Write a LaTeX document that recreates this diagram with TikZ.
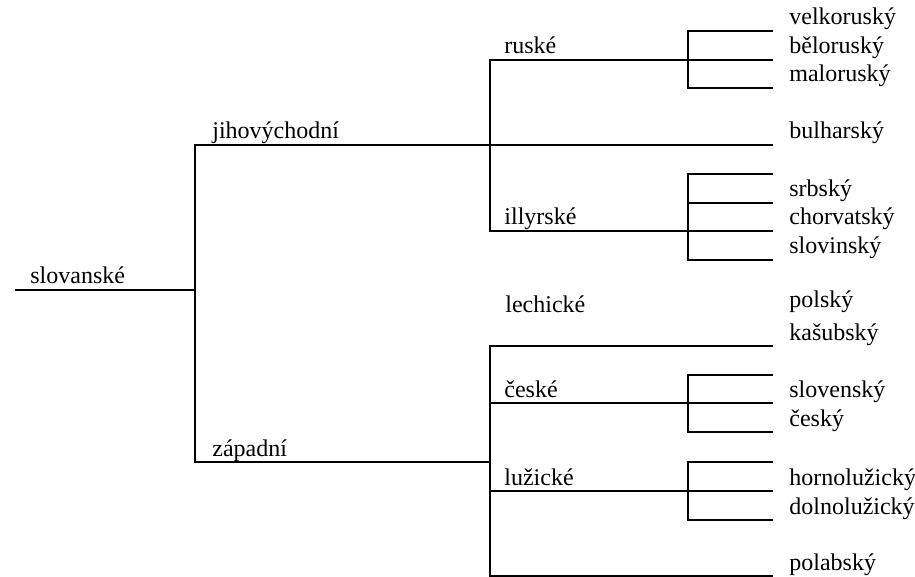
\documentclass[tikz,border=0pt]{standalone}
\usepackage{fontspec}

\begin{document}
\begin{tikzpicture}[x=0.5pt,y=-0.5pt,font=\fontspec{Liberation Serif}\fontsize{12}{14}\selectfont]
  %----- styles
  \tikzset{
    branch/.style={draw,line width=1pt},
    lbl/.style   ={anchor=base west,inner sep=0pt},
    leaf/.style  ={anchor=base west,inner sep=0pt,xshift=8pt,yshift=3pt}
  }
  \useasboundingbox (0,0) rectangle (915,577);

  %----- coordinates
  % root and first split
  \coordinate (root)  at (15,290);
  \coordinate (split) at (195,290);
  \coordinate (jv)    at (195,145);
  \coordinate (zp)    at (195,462);
  \coordinate (zpE)   at (490,462);

  % south-east group
  \coordinate (rus)   at (490,60);
  \coordinate (rusE)  at (773,60);
  \coordinate (bulE)  at (773,145);
  \coordinate (ill)   at (490,231);
  \coordinate (illE)  at (773,231);

  % west group
  \coordinate (kas)   at (490,346);
  \coordinate (kasE)  at (773,346);
  \coordinate (ces)   at (490,403);
  \coordinate (cesE)  at (773,403);
  \coordinate (luz)   at (490,491);
  \coordinate (luzE)  at (773,491);
  \coordinate (pol)   at (490,576);
  \coordinate (polE)  at (773,576);
  \coordinate (lech)  at (773,319); % no line here

  % small brackets
  \coordinate (rusT)  at (688,31);   \coordinate (velkE) at (773,31);
  \coordinate (rusB)  at (688,88);   \coordinate (malE)  at (773,88);
  \coordinate (illT)  at (688,174);  \coordinate (illTE) at (773,174);
  \coordinate (illM)  at (688,203);  \coordinate (srbE)  at (773,203);
  \coordinate (illB)  at (688,260);  \coordinate (sloE)  at (773,260);
  \coordinate (cesT)  at (688,375);  \coordinate (cesTE) at (773,375);
  \coordinate (cesB)  at (688,432);  \coordinate (ceskE) at (773,432);
  \coordinate (luzT)  at (688,462);  \coordinate (luzTE) at (773,462);
  \coordinate (luzB)  at (688,520);  \coordinate (dolE)  at (773,520);

  %----- branches
  \draw[branch] (root) -- (split);
  \draw[branch] (bulE) -- (jv) -- (zp) -- (zpE);

  \draw[branch] (rusE) -- (rus) -- (ill) -- (illE);
  \draw[branch] (velkE) -- (rusT) -- (rusB) -- (malE);
  \draw[branch] (illTE) -- (illT) -- (illB) -- (sloE);
  \draw[branch] (illM) -- (srbE);

  \draw[branch] (kasE) -- (kas) -- (pol) -- (polE);
  \draw[branch] (ces) -- (cesE);
  \draw[branch] (luz) -- (luzE);
  \draw[branch] (cesTE) -- (cesT) -- (cesB) -- (ceskE);
  \draw[branch] (luzTE) -- (luzT) -- (luzB) -- (dolE);

  %----- group labels
  \node[lbl] (tslov) at ([xshift=7.5pt,yshift=3pt]root) {slovanské};
  \node[lbl] (tjv)   at ([xshift=8.5pt,yshift=3pt]jv)   {jihovýchodní};
  \node[lbl] (tzp)   at ([xshift=8.5pt,yshift=3pt]zp)   {západní};
  \node[lbl] (trus)  at ([xshift=7pt,yshift=3pt]rus)    {ruské};
  \node[lbl] (till)  at ([xshift=7pt,yshift=3pt]ill)    {illyrské};
  \node[lbl] (tlech) at (505,313)                       {lechické};
  \node[lbl] (tces)  at ([xshift=7pt,yshift=3pt]ces)    {české};
  \node[lbl] (tluz)  at ([xshift=7pt,yshift=3pt]luz)    {lužické};

  %----- languages
  \node[leaf] (velk) at (velkE) {velkoruský};
  \node[leaf] (bel)  at (rusE)  {běloruský};
  \node[leaf] (mal)  at (malE)  {maloruský};
  \node[leaf] (bul)  at (bulE)  {bulharský};
  \node[leaf] (srb)  at (srbE)  {srbský};
  \node[leaf] (chor) at (illE)  {chorvatský};
  \node[leaf] (slo)  at (sloE)  {slovinský};
  \node[leaf] (pols) at ([yshift=3pt]lech) {polský};
  \node[leaf] (kasu) at (kasE)  {kašubský};
  \node[leaf] (slov) at (cesE)  {slovenský};
  \node[leaf] (cesk) at (ceskE) {český};
  \node[leaf] (horn) at (luzE)  {hornolužický};
  \node[leaf] (doln) at (dolE)  {dolnolužický};
  \node[leaf] (pola) at (polE)  {polabský};
\end{tikzpicture}
\end{document}
